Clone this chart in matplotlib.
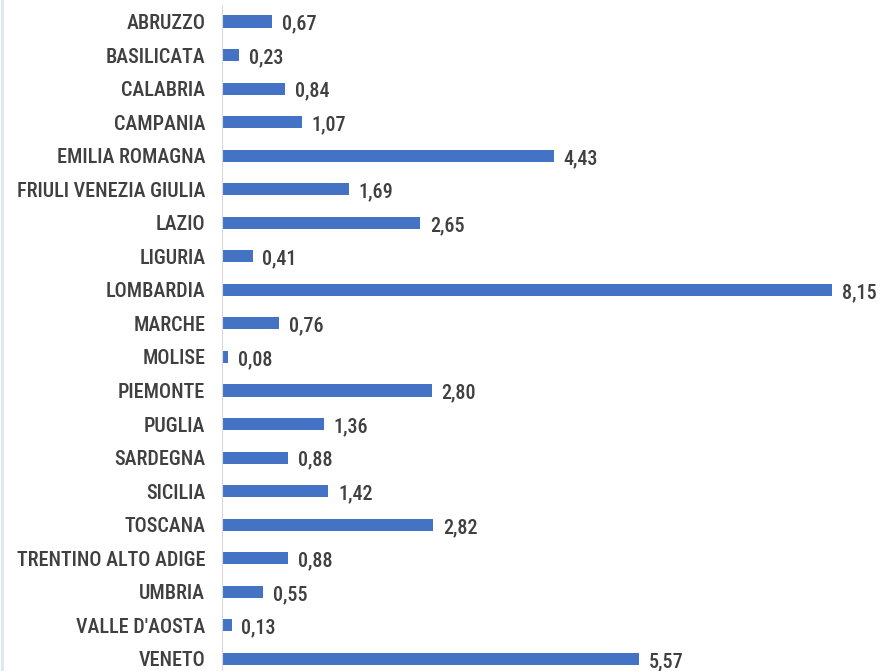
import matplotlib
matplotlib.use("Agg")
import matplotlib.pyplot as plt
from matplotlib import font_manager

regions = ["ABRUZZO", "BASILICATA", "CALABRIA", "CAMPANIA", "EMILIA ROMAGNA",
           "FRIULI VENEZIA GIULIA", "LAZIO", "LIGURIA", "LOMBARDIA", "MARCHE",
           "MOLISE", "PIEMONTE", "PUGLIA", "SARDEGNA", "SICILIA", "TOSCANA",
           "TRENTINO ALTO ADIGE", "UMBRIA", "VALLE D'AOSTA", "VENETO"]
values = [0.67, 0.23, 0.84, 1.07, 4.43, 1.69, 2.65, 0.41, 8.15, 0.76,
          0.08, 2.80, 1.36, 0.88, 1.42, 2.82, 0.88, 0.55, 0.13, 5.57]

# narrow font, first one that is installed
names = {f.name for f in font_manager.fontManager.ttflist}
family = "DejaVu Sans"
for cand in ["Roboto Condensed", "PT Sans Narrow", "Archivo Narrow",
             "Open Sans Condensed", "Carlito"]:
    if cand in names:
        family = cand
        break
plt.rcParams["font.family"] = [family, "DejaVu Sans"]

fig = plt.figure(figsize=(8.81, 6.71), dpi=100)
# faint blue edge on the left, as in the source slide
fig.add_artist(plt.Line2D([0.002, 0.002], [0, 1], transform=fig.transFigure,
                          color="#dbe6f4", lw=2))

ax = fig.add_axes([222 / 881, -0.007, 1 - 222 / 881, 1.0])
pos = list(range(len(regions)))
ax.barh(pos, values, height=0.36, color="#4472C4")
for p, v in zip(pos, values):
    ax.text(v + 0.13, p + 0.08, f"{v:.2f}".replace(".", ","), va="center", ha="left",
            fontsize=14.5, fontweight="medium", color="#404040")

ax.set_ylim(len(regions) - 0.5, -0.5)
ax.set_xlim(0, 8.80)
ax.set_yticks(pos)
ax.set_yticklabels(regions, fontsize=14.5, fontweight="medium", color="#404040")
ax.tick_params(axis="y", length=0, pad=12)
ax.set_xticks([])
for s in ["top", "right", "bottom"]:
    ax.spines[s].set_visible(False)
ax.spines["left"].set_color("#d9d9d9")
ax.patch.set_alpha(0)

fig.savefig("out.png", dpi=100)
